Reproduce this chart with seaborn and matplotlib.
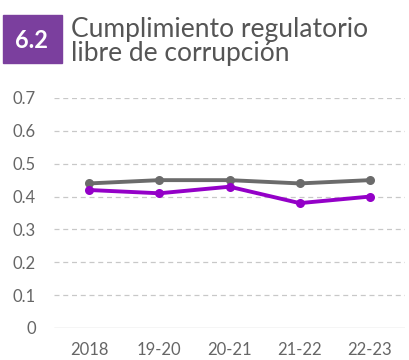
import matplotlib
matplotlib.use("Agg")
import matplotlib.pyplot as plt
import seaborn as sns
import pandas as pd
from matplotlib.patches import Rectangle

periods = ["2018", "19-20", "20-21", "21-22", "22-23"]
reference_values = [0.44, 0.45, 0.45, 0.44, 0.45]
entity_values = [0.42, 0.41, 0.43, 0.38, 0.40]
y_ticks = [0, 0.1, 0.2, 0.3, 0.4, 0.5, 0.6, 0.7]
y_tick_labels = ["0", "0.1", "0.2", "0.3", "0.4", "0.5", "0.6", "0.7"]

sns.set_theme(style="white")
plt.rcParams["font.family"] = ["Lato", "DejaVu Sans"]

df = pd.DataFrame({
    "period": periods * 2,
    "value": reference_values + entity_values,
    "series": ["ref"] * len(periods) + ["entity"] * len(periods),
})

fig = plt.figure(figsize=(4.09, 3.6), dpi=100)
ax = fig.add_axes([54 / 409, 1 - 328 / 360, 351 / 409, 230 / 360])

sns.lineplot(
    data=df, x="period", y="value", hue="series",
    palette={"ref": "#6b6b6b", "entity": "#9400c8"},
    hue_order=["ref", "entity"],
    marker="o", markersize=6.5, markeredgewidth=0, linewidth=2.8,
    legend=False, ax=ax, sort=False,
)

ax.set_xlim(-0.5, len(periods) - 0.5)
ax.set_ylim(0, 0.7)
ax.set_yticks(y_ticks)
ax.set_yticklabels(y_tick_labels)
ax.set_xticks(range(len(periods)))
ax.set_xticklabels(periods)
ax.set_xlabel("")
ax.set_ylabel("")

for t in y_ticks[1:]:
    ax.axhline(t, color="#c8c8c8", linewidth=0.9, linestyle=(0, (4, 3)), zorder=0)
ax.axhline(0, color="#d0d0d0", linewidth=1.0, zorder=0)

for s in ax.spines.values():
    s.set_visible(False)
ax.tick_params(axis="both", length=0, labelsize=12, labelcolor="#666666")
ax.tick_params(axis="y", pad=13)
ax.tick_params(axis="x", pad=10)

# Section badge and title
fig.patches.append(Rectangle((3 / 409, 1 - 63 / 360), 59 / 409, 48 / 360,
                             transform=fig.transFigure, color="#7b3f9e", zorder=1))
fig.text(31 / 409, 1 - 41 / 360, "6.2", color="white", fontsize=17,
         fontweight="bold", ha="center", va="center")
fig.text(71 / 409, 1 - 41 / 360, "Cumplimiento regulatorio\nlibre de corrupción",
         color="#555555", fontsize=19, ha="left", va="center", linespacing=0.95)

fig.savefig("out.png", dpi=100)
